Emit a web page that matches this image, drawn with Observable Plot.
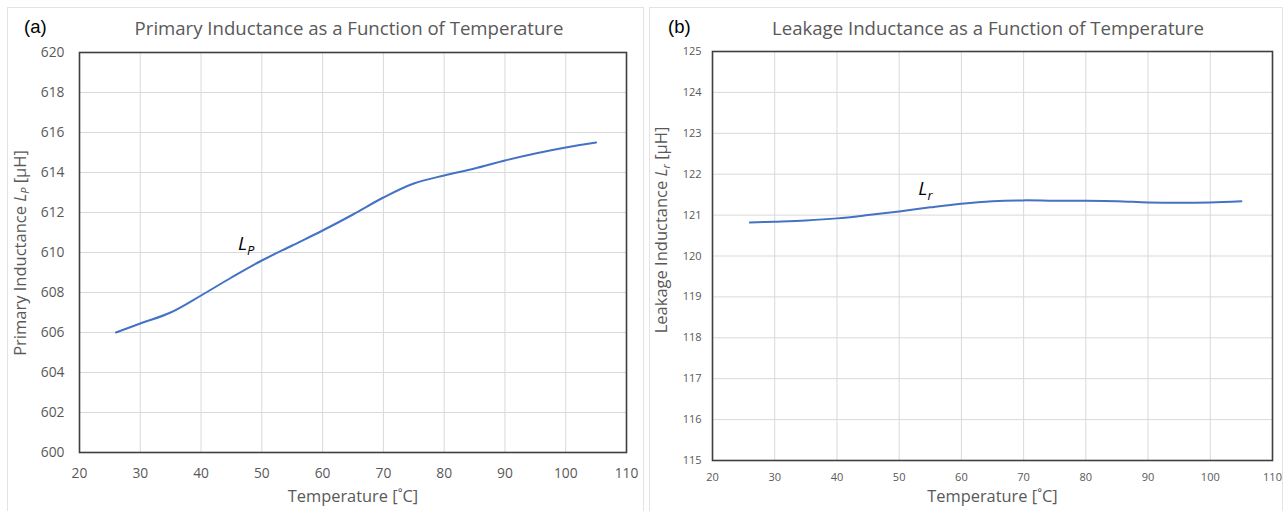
<!DOCTYPE html>
<html>
<head>
<meta charset="utf-8">
<script src="https://cdn.jsdelivr.net/npm/d3@7"></script>
<script src="https://cdn.jsdelivr.net/npm/@observablehq/plot@0.6"></script>
<style>
  html, body { margin: 0; padding: 0; background: #fff; }
  body { width: 1286px; height: 511px; position: relative; overflow: hidden; font-family: "Open Sans", sans-serif; }
  .panel { position: absolute; top: 7px; height: 520px; border: 1px solid #e3e3e3; box-sizing: border-box; background: #fff; }
  .title { position: absolute; top: 15px; color: #595959; font-size: 18.6px; white-space: nowrap; transform: translateX(-50%); }
  .tag { position: absolute; top: 16px; color: #000; font-family: "Liberation Sans", Arial, sans-serif; font-size: 18.5px; }
  .chart { position: absolute; top: 40px; }
</style>
</head>
<body>
<div class="panel" style="left:7px;width:637px;"></div>
<div class="panel" style="left:649px;width:634px;"></div>
<div class="tag" style="left:24px;">(a)</div>
<div class="title" style="left:349px;">Primary Inductance as a Function of Temperature</div>
<div class="tag" style="left:668px;">(b)</div>
<div class="title" style="left:988px;">Leakage Inductance as a Function of Temperature</div>
<div id="chartA" class="chart" style="left:7px;"></div>
<div id="chartB" class="chart" style="left:649px;"></div>
<script>
// ---- data ----
const temperature = [26, 30, 35, 40, 45, 50, 55, 60, 65, 70, 75, 80, 85, 90, 95, 100, 105];
const primaryInductance = [606.0, 606.45, 607.0, 607.85, 608.75, 609.6, 610.35, 611.1, 611.9, 612.75, 613.45, 613.85, 614.2, 614.6, 614.95, 615.25, 615.5];
const leakageInductance = [120.82, 120.84, 120.87, 120.92, 121.0, 121.09, 121.19, 121.28, 121.34, 121.36, 121.35, 121.35, 121.34, 121.31, 121.3, 121.31, 121.34];
const xTicks = [20, 30, 40, 50, 60, 70, 80, 90, 100, 110];
const yTicksA = [600, 602, 604, 606, 608, 610, 612, 614, 616, 618, 620];
const yTicksB = [115, 116, 117, 118, 119, 120, 121, 122, 123, 124, 125];
const xLabel = "Temperature [˚C]";
const labelA = {T: 47.5, L: 610.1, main: "L", sub: "P"};
const labelB = {T: 54.3, L: 121.48, main: "L", sub: "r"};

const rowsA = temperature.map((t, i) => ({t, v: primaryInductance[i]}));
const rowsB = temperature.map((t, i) => ({t, v: leakageInductance[i]}));

const grey = "#595959";
const lineColor = "#4472C4";

function makeChart(opts) {
  const chart = Plot.plot({
    width: opts.width,
    height: 471,
    marginLeft: opts.ml,
    marginRight: opts.mr,
    marginTop: opts.mt,
    marginBottom: opts.mb,
    style: {fontFamily: "'Open Sans', sans-serif", fontSize: opts.tickFont + "px", color: grey, background: "transparent"},
    x: {domain: [20, 110], ticks: xTicks, label: null},
    y: {domain: opts.yDomain, ticks: opts.yTicks, label: null},
    marks: [
      Plot.gridX(xTicks, {stroke: "#d9d9d9", strokeOpacity: 1, strokeWidth: 1}),
      Plot.gridY(opts.yTicks, {stroke: "#d9d9d9", strokeOpacity: 1, strokeWidth: 1}),
      Plot.axisX(xTicks, {tickSize: 0, tickPadding: opts.xPad, fill: grey, fontSize: opts.tickFont}),
      Plot.axisY(opts.yTicks, {tickSize: 0, tickPadding: opts.yPad, fill: grey, fontSize: opts.tickFont}),
      Plot.line(opts.rows, {x: "t", y: "v", stroke: lineColor, strokeWidth: 2, curve: "catmull-rom"}),
      Plot.frame({stroke: "#3f3f3f", strokeWidth: 1.6}),
      Plot.text([xLabel], {frameAnchor: "bottom", dy: opts.xLabelDy, fontSize: 16.4, fill: grey, text: d => d})
    ]
  });
  const svg = d3.select(chart);
  const xs = chart.scale("x"), ys = chart.scale("y");
  // rotated y-axis title with italic symbol and subscript
  const yt = svg.append("text")
    .attr("transform", `translate(${opts.yTitleX},${opts.yTitleY}) rotate(-90)`)
    .attr("text-anchor", "middle")
    .attr("fill", grey)
    .attr("font-size", 16.5)
    .attr("dominant-baseline", "middle");
  yt.append("tspan").text(opts.yTitle[0]);
  yt.append("tspan").attr("font-style", "italic").text(opts.yTitle[1]);
  yt.append("tspan").attr("font-style", "italic").attr("font-size", 11).attr("dy", 4).text(opts.yTitle[2]);
  yt.append("tspan").attr("dy", -4).text(opts.yTitle[3]);
  // in-plot series label
  const lab = svg.append("text")
    .attr("x", xs.apply(opts.label.T))
    .attr("y", ys.apply(opts.label.L))
    .attr("fill", "#000")
    .attr("font-size", 19)
    .attr("font-style", "italic");
  lab.append("tspan").text(opts.label.main);
  lab.append("tspan").attr("font-size", 13).attr("dy", 5).text(opts.label.sub);
  return chart;
}

document.getElementById("chartA").append(makeChart({
  width: 636, ml: 72, mr: 17, mt: 12, mb: 59,
  yDomain: [600, 620], yTicks: yTicksA, rows: rowsA,
  tickFont: 13.8, xPad: 16, yPad: 15, xLabelDy: 49,
  yTitleX: 15, yTitleY: 213,
  yTitle: ["Primary Inductance ", "L", "P", " [µH]"],
  label: labelA
}));

document.getElementById("chartB").append(makeChart({
  width: 633, ml: 63, mr: 10, mt: 11, mb: 51,
  yDomain: [115, 125], yTicks: yTicksB, rows: rowsB,
  tickFont: 11, xPad: 13, yPad: 11, xLabelDy: 41,
  yTitleX: 14, yTitleY: 190,
  yTitle: ["Leakage Inductance ", "L", "r", " [µH]"],
  label: labelB
}));
</script>
</body>
</html>
